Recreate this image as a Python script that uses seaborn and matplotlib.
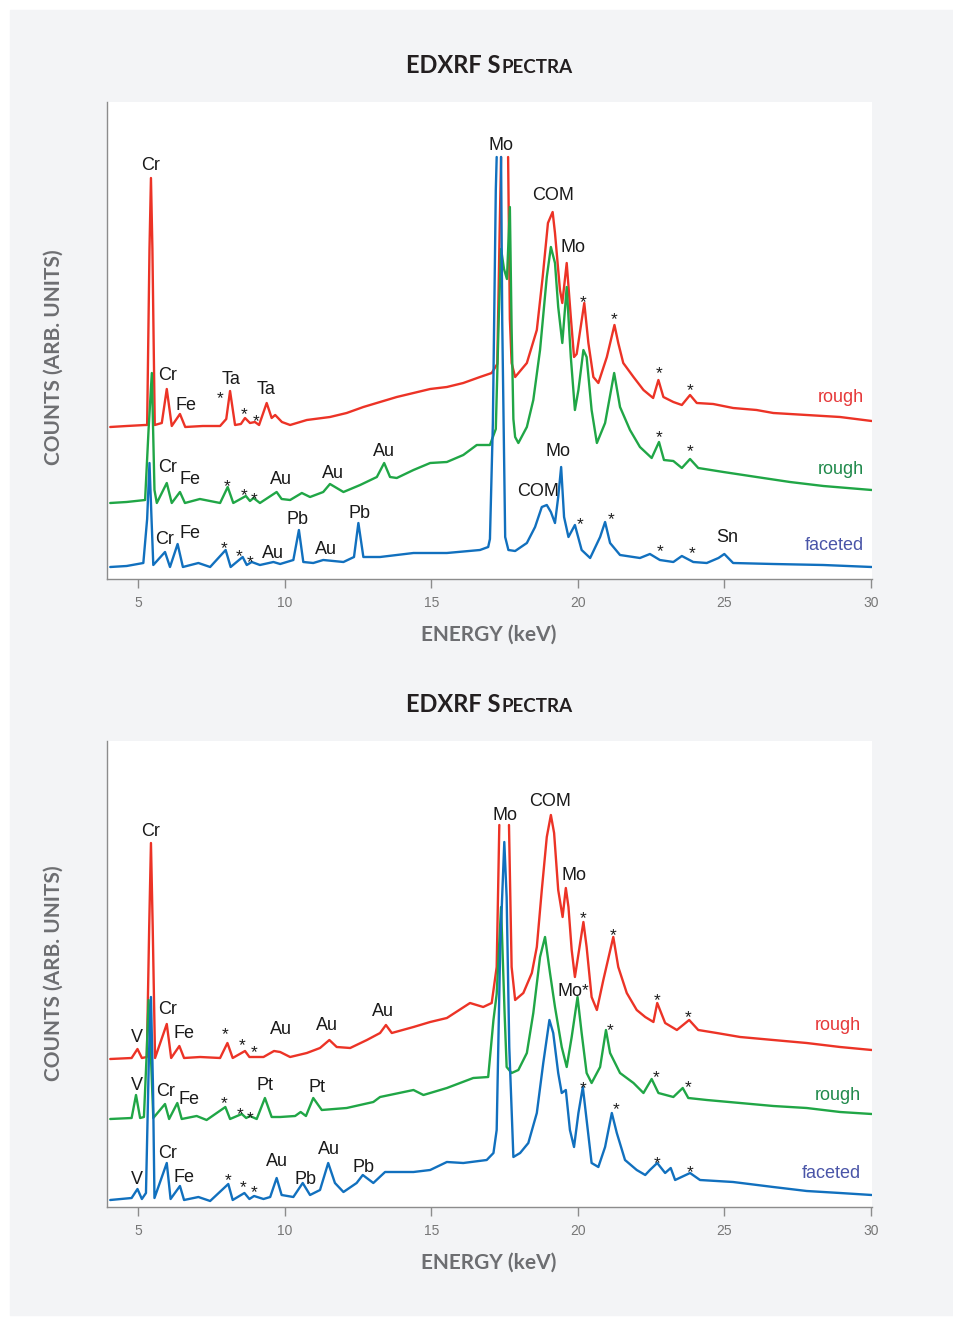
import matplotlib
matplotlib.use("Agg")
import matplotlib.pyplot as plt
from matplotlib.patches import Rectangle
import numpy as np
import pandas as pd
import seaborn as sns

nan = np.nan  # marks an off-scale (cut) peak top

# (energy keV, counts arb.)
# ---------------- top panel ----------------
top_red = [
    (4.04, 152), (4.6, 153), (5.23, 154), (5.3, 154), (5.38, 330), (5.43, 401), (5.48, 330),
    (5.56, 154), (5.8, 156), (5.97, 190), (6.14, 153), (6.42, 165), (6.6, 152), (7.2, 153),
    (7.79, 153), (8.0, 160), (8.13, 188), (8.3, 154), (8.5, 155), (8.64, 161), (8.81, 156),
    (8.98, 157), (9.12, 154), (9.38, 176), (9.55, 161), (9.67, 164), (9.9, 157), (10.18, 154),
    (10.75, 159), (11.54, 162), (12.11, 166), (12.68, 172), (13.25, 177), (13.82, 182),
    (14.39, 186), (14.96, 190), (15.53, 192), (16.09, 196), (16.66, 202), (17.06, 206),
    (17.25, 215), (17.33, 346), (17.38, 422), (17.5, nan), (17.62, 422), (17.68, 260),
    (17.74, 216), (17.86, 202), (18.26, 216), (18.6, 249), (18.8, 302), (18.98, 356),
    (19.14, 367), (19.22, 346), (19.39, 289), (19.47, 276), (19.62, 316), (19.76, 262),
    (19.87, 222), (19.96, 225), (20.22, 276), (20.36, 236), (20.53, 202), (20.7, 196),
    (20.99, 222), (21.25, 254), (21.38, 236), (21.55, 216), (21.9, 202), (22.24, 189),
    (22.57, 181), (22.75, 199), (22.92, 182), (23.26, 177), (23.55, 174), (23.83, 184),
    (24.06, 176), (24.62, 175), (25.3, 171), (26.1, 169), (26.67, 166), (27.81, 164),
    (28.95, 162), (30.03, 158),
]
top_green = [
    (4.04, 76), (4.6, 77), (5.23, 79), (5.35, 150), (5.46, 206), (5.55, 89), (5.63, 76),
    (5.97, 96), (6.14, 76), (6.42, 87), (6.59, 76), (7.1, 80), (7.79, 76), (8.05, 92),
    (8.24, 76), (8.67, 83), (8.81, 78), (8.93, 81), (9.15, 76), (9.72, 87), (9.89, 80),
    (10.18, 79), (10.58, 86), (10.86, 82), (11.31, 87), (11.54, 95), (12.0, 87), (12.57, 94),
    (13.14, 102), (13.39, 116), (13.59, 102), (13.82, 101), (14.39, 109), (14.96, 116),
    (15.53, 117), (16.09, 124), (16.55, 134), (17.0, 134), (17.2, 150), (17.3, 260),
    (17.38, 330), (17.48, 310), (17.58, 300), (17.68, 372), (17.74, 250), (17.8, 160),
    (17.86, 142), (17.97, 136), (18.26, 152), (18.48, 179), (18.71, 229), (18.94, 302),
    (19.08, 332), (19.22, 316), (19.33, 272), (19.47, 236), (19.62, 292), (19.76, 222),
    (19.9, 169), (20.02, 189), (20.19, 229), (20.3, 222), (20.47, 169), (20.65, 136),
    (20.93, 156), (21.24, 206), (21.44, 172), (21.78, 149), (22.12, 132), (22.52, 121),
    (22.77, 137), (22.94, 119), (23.26, 118), (23.55, 111), (23.83, 120), (24.11, 111),
    (24.97, 107), (26.1, 102), (27.24, 97), (28.38, 93), (30.03, 89),
]
top_blue = [
    (4.04, 12), (4.6, 13), (5.17, 16), (5.3, 60), (5.38, 116), (5.45, 60), (5.51, 14),
    (5.91, 27), (6.08, 12), (6.34, 35), (6.52, 12), (7.05, 16), (7.45, 12), (7.98, 29),
    (8.15, 12), (8.56, 22), (8.7, 14), (8.87, 17), (9.15, 14), (9.61, 17), (9.84, 15),
    (10.29, 19), (10.48, 49), (10.63, 17), (10.97, 16), (11.31, 19), (12.0, 17), (12.36, 22),
    (12.51, 56), (12.68, 22), (13.25, 22), (14.39, 26), (15.53, 26), (16.66, 29), (16.94, 32),
    (17.0, 40), (17.1, 156), (17.2, 389), (17.23, 422), (17.3, nan), (17.38, 422),
    (17.42, 256), (17.52, 42), (17.63, 29), (17.86, 28), (18.26, 36), (18.54, 52),
    (18.77, 72), (18.94, 74), (19.08, 67), (19.22, 56), (19.33, 82), (19.43, 112),
    (19.53, 62), (19.68, 42), (19.9, 54), (20.13, 29), (20.42, 21), (20.76, 42), (20.93, 57),
    (21.1, 36), (21.44, 24), (22.12, 21), (22.46, 25), (22.8, 19), (23.26, 17), (23.55, 23),
    (23.94, 17), (24.4, 16), (24.8, 21), (25.0, 25), (25.3, 16), (26.67, 15), (28.38, 14),
    (30.03, 12),
]

# (text, energy, counts, colour key)
top_labels = [
    ("Cr", 5.40, 415, "k"), ("Cr", 6.01, 205, "k"), ("Fe", 6.63, 174, "k"),
    ("*", 7.79, 186, "k"), ("Ta", 8.16, 201, "k"), ("*", 8.61, 170, "k"),
    ("*", 9.02, 163, "k"), ("Ta", 9.36, 190, "k"), ("Mo", 17.38, 434, "k"),
    ("COM", 19.15, 385, "k"), ("Mo", 19.83, 333, "k"), ("*", 20.17, 282, "k"),
    ("*", 21.24, 265, "k"), ("*", 22.77, 211, "k"), ("*", 23.83, 194, "k"),
    ("rough", 28.98, 182, "r"),
    ("Cr", 5.98, 113, "k"), ("Fe", 6.76, 100, "k"), ("*", 8.03, 98, "k"),
    ("*", 8.61, 89, "k"), ("*", 8.95, 85, "k"), ("Au", 9.87, 100, "k"),
    ("Au", 11.65, 107, "k"), ("Au", 13.39, 128, "k"), ("Mo", 19.33, 128, "k"),
    ("*", 22.77, 147, "k"), ("*", 23.83, 133, "k"), ("rough", 28.98, 111, "g"),
    ("Cr", 5.88, 40, "k"), ("Fe", 6.76, 46, "k"), ("*", 7.92, 36, "k"),
    ("*", 8.44, 28, "k"), ("*", 8.81, 22, "k"), ("Au", 9.60, 27, "k"),
    ("Pb", 10.42, 61, "k"), ("Au", 11.41, 31, "k"), ("Pb", 12.54, 67, "k"),
    ("COM", 18.65, 89, "k"), ("*", 20.08, 60, "k"), ("*", 21.14, 65, "k"),
    ("*", 22.81, 33, "k"), ("*", 23.90, 31, "k"), ("Sn", 25.09, 42, "k"),
    ("faceted", 28.74, 35, "b"),
]

# ---------------- bottom panel ----------------
bot_red = [
    (4.04, 148), (4.77, 149), (4.97, 158), (5.12, 149), (5.29, 150), (5.37, 280), (5.43, 364),
    (5.49, 280), (5.57, 149), (5.97, 183), (6.12, 149), (6.4, 161), (6.56, 149), (7.11, 150),
    (7.79, 149), (8.04, 164), (8.22, 149), (8.64, 156), (8.79, 150), (9.27, 150), (9.63, 156),
    (9.84, 155), (10.18, 150), (10.75, 154), (11.2, 159), (11.52, 167), (11.77, 160),
    (12.23, 159), (12.8, 167), (13.25, 174), (13.45, 182), (13.65, 174), (14.39, 180),
    (14.96, 185), (15.53, 189), (16.32, 204), (16.77, 200), (17.06, 204), (17.23, 240),
    (17.32, 382), (17.5, nan), (17.65, 382), (17.74, 240), (17.86, 207), (18.14, 214),
    (18.43, 234), (18.6, 260), (18.77, 317), (18.94, 370), (19.08, 392), (19.19, 374),
    (19.33, 317), (19.48, 290), (19.59, 319), (19.68, 300), (19.79, 257), (19.9, 230),
    (20.19, 285), (20.3, 260), (20.47, 210), (20.65, 197), (20.87, 227), (21.21, 270),
    (21.38, 240), (21.67, 214), (22.01, 197), (22.3, 190), (22.58, 185), (22.71, 204),
    (22.98, 184), (23.38, 177), (23.8, 187), (24.11, 177), (24.74, 174), (25.54, 170),
    (26.67, 167), (27.81, 164), (28.95, 160), (30.03, 157),
]
bot_green = [
    (4.04, 88), (4.77, 89), (4.92, 112), (5.06, 89), (5.19, 90), (5.28, 150), (5.35, 207),
    (5.43, 150), (5.51, 89), (5.91, 103), (6.05, 88), (6.33, 104), (6.48, 88), (6.99, 91),
    (7.33, 87), (7.97, 100), (8.13, 88), (8.53, 93), (8.68, 89), (8.81, 91), (9.04, 88),
    (9.32, 109), (9.55, 90), (9.84, 90), (10.35, 91), (10.54, 95), (10.72, 91), (10.97, 109),
    (11.26, 97), (12.11, 99), (13.02, 105), (13.25, 110), (14.39, 117), (14.73, 112),
    (15.53, 119), (16.43, 129), (16.94, 130), (17.12, 187), (17.23, 213), (17.38, 300),
    (17.5, 194), (17.57, 140), (17.74, 134), (17.97, 137), (18.26, 154), (18.48, 194),
    (18.71, 250), (18.88, 270), (19.05, 234), (19.22, 200), (19.45, 160), (19.62, 140),
    (19.79, 170), (19.99, 210), (20.13, 174), (20.3, 134), (20.47, 124), (20.76, 140),
    (20.96, 177), (21.1, 154), (21.44, 134), (21.9, 124), (22.24, 114), (22.52, 128),
    (22.75, 114), (23.26, 110), (23.58, 119), (23.77, 109), (24.4, 107), (25.54, 104),
    (26.67, 101), (27.81, 99), (28.95, 95), (30.03, 93),
]
bot_blue = [
    (4.04, 7), (4.77, 9), (4.97, 18), (5.12, 8), (5.26, 14), (5.36, 150), (5.43, 210),
    (5.5, 120), (5.55, 9), (5.97, 44), (6.1, 8), (6.42, 21), (6.56, 7), (7.05, 10), (7.45, 6),
    (8.07, 23), (8.22, 7), (8.62, 14), (8.79, 8), (8.95, 11), (9.27, 8), (9.5, 10),
    (9.72, 29), (9.89, 12), (10.29, 10), (10.61, 24), (10.86, 12), (11.2, 17), (11.48, 44),
    (11.71, 24), (12.0, 15), (12.45, 24), (12.66, 32), (13.02, 24), (13.42, 35), (14.39, 35),
    (14.96, 37), (15.53, 45), (16.09, 44), (16.89, 47), (17.12, 54), (17.23, 77),
    (17.35, 260), (17.49, 365), (17.57, 310), (17.66, 160), (17.8, 50), (18.03, 54),
    (18.31, 64), (18.6, 94), (18.82, 144), (19.03, 187), (19.16, 174), (19.33, 134),
    (19.45, 114), (19.59, 117), (19.73, 77), (19.87, 60), (20.02, 94), (20.17, 120),
    (20.3, 87), (20.47, 44), (20.7, 40), (20.93, 60), (21.16, 94), (21.33, 74), (21.61, 47),
    (22.01, 37), (22.3, 32), (22.46, 37), (22.71, 44), (22.98, 34), (23.17, 39), (23.32, 27),
    (23.83, 34), (24.17, 27), (25.3, 25), (26.67, 20), (27.81, 16), (28.95, 14), (30.03, 12),
]

bot_labels = [
    ("Cr", 5.40, 377, "k"), ("V", 4.96, 170, "k"), ("Cr", 6.01, 199, "k"),
    ("Fe", 6.56, 174, "k"), ("*", 7.96, 178, "k"), ("*", 8.54, 167, "k"),
    ("*", 8.95, 160, "k"), ("Au", 9.87, 178, "k"), ("Au", 11.44, 182, "k"),
    ("Au", 13.35, 196, "k"), ("Mo", 17.52, 392, "k"), ("COM", 19.06, 407, "k"),
    ("Mo", 19.88, 333, "k"), ("*", 20.19, 294, "k"), ("*", 21.21, 277, "k"),
    ("*", 22.71, 212, "k"), ("*", 23.76, 195, "k"), ("rough", 28.87, 182, "r"),
    ("V", 4.96, 123, "k"), ("Cr", 5.94, 116, "k"), ("Fe", 6.73, 108, "k"),
    ("*", 7.92, 109, "k"), ("*", 8.47, 98, "k"), ("*", 8.81, 94, "k"),
    ("Pt", 9.32, 122, "k"), ("Pt", 11.10, 120, "k"), ("Mo", 19.74, 217, "k"),
    ("*", 20.25, 222, "k"), ("*", 21.10, 182, "k"), ("*", 22.67, 135, "k"),
    ("*", 23.76, 125, "k"), ("rough", 28.87, 113, "g"),
    ("V", 4.96, 29, "k"), ("Cr", 5.98, 54, "k"), ("Fe", 6.56, 31, "k"),
    ("*", 8.06, 32, "k"), ("*", 8.58, 25, "k"), ("*", 8.95, 20, "k"),
    ("Au", 9.73, 47, "k"), ("Pb", 10.72, 29, "k"), ("Au", 11.51, 58, "k"),
    ("Pb", 12.70, 40, "k"), ("*", 20.18, 124, "k"), ("*", 21.31, 103, "k"),
    ("*", 22.71, 49, "k"), ("*", 23.83, 40, "k"), ("faceted", 28.64, 34, "b"),
]

energy_ticks = [5, 10, 15, 20, 25, 30]

LINE = {"r": "#ec3326", "g": "#20a646", "b": "#1170be"}
TEXT = {"k": "#1a1a1a", "r": "#e6393a", "g": "#218a4c", "b": "#4a55a8"}
GREY = "#8c8c8c"
LABEL_GREY = "#6d6e71"

W, H = 954, 1317

sns.set_style("ticks")
plt.rcParams["font.family"] = ["Liberation Sans", "DejaVu Sans"]

fig = plt.figure(figsize=(W / 100, H / 100), dpi=100)
fig.patch.set_facecolor("white")
fig.patches.append(Rectangle((10 / W, 1 - 1315 / H), 943 / W, 1305 / H,
                             transform=fig.transFigure, color="#f3f4f6", zorder=-10))


def spectrum_frame(points):
    df = pd.DataFrame(points, columns=["energy", "counts"])
    df["segment"] = df["counts"].isna().cumsum()
    return df.dropna()


def draw_panel(ax, spectra, labels, ymax):
    for points, key in spectra:
        df = spectrum_frame(points)
        sns.lineplot(data=df, x="energy", y="counts", units="segment", estimator=None,
                     sort=False, color=LINE[key], linewidth=1.7, ax=ax, legend=False)
    for text, e, c, key in labels:
        if text == "*":
            ax.text(e, c - 6, text, fontsize=12.5, ha="center", va="center", color=TEXT[key])
        else:
            ax.text(e, c - 1, text, fontsize=13, ha="center", va="center", color=TEXT[key])
    ax.set_xlim(3.93, 30.04)
    ax.set_ylim(0, ymax)
    ax.set_xticks(energy_ticks)
    ax.set_yticks([])
    ax.set_xlabel("")
    ax.set_ylabel("")
    ax.set_facecolor("white")
    for side in ("top", "right"):
        ax.spines[side].set_visible(False)
    for side in ("left", "bottom"):
        ax.spines[side].set_color(GREY)
        ax.spines[side].set_linewidth(1.0)
    ax.tick_params(axis="x", direction="out", length=6.5, width=1.0, color=GREY,
                   labelsize=10, labelcolor="#777777", pad=6)


def place_axes(top_px, bottom_px):
    return fig.add_axes([107 / W, 1 - bottom_px / H, (872 - 107) / W, (bottom_px - top_px) / H])


def smallcaps_title(y_px):
    r = fig.canvas.get_renderer()
    kw = dict(family=["Lato", "DejaVu Sans"], fontweight="bold", color="#231f20", va="baseline")
    t1 = fig.text(0, 1 - y_px / H, "EDXRF S", fontsize=17, **kw)
    t2 = fig.text(0, 1 - y_px / H, "PECTRA", fontsize=13.5, **kw)
    w1 = t1.get_window_extent(r).width
    w2 = t2.get_window_extent(r).width
    x0 = 489 - (w1 + w2) / 2
    t1.set_x(x0 / W)
    t2.set_x((x0 + w1 + 1) / W)


def axis_labels(xlab_px, ylab_center_px):
    kw = dict(family=["Lato", "DejaVu Sans"], fontweight="bold", color=LABEL_GREY, fontsize=15)
    fig.text(489 / W, 1 - xlab_px / H, "ENERGY (keV)", ha="center", va="baseline", **kw)
    fig.text(54 / W, 1 - ylab_center_px / H, "COUNTS (ARB. UNITS)", rotation=90,
             ha="center", va="center", **kw)


ax_top = place_axes(102, 579)
draw_panel(ax_top, [(top_red, "r"), (top_green, "g"), (top_blue, "b")], top_labels, 477)

ax_bot = place_axes(741, 1207)
draw_panel(ax_bot, [(bot_red, "r"), (bot_green, "g"), (bot_blue, "b")], bot_labels, 466)

smallcaps_title(73)
smallcaps_title(712)
axis_labels(641, 357)
axis_labels(1269, 973)

fig.savefig("out.png", dpi=100, facecolor=fig.get_facecolor())
